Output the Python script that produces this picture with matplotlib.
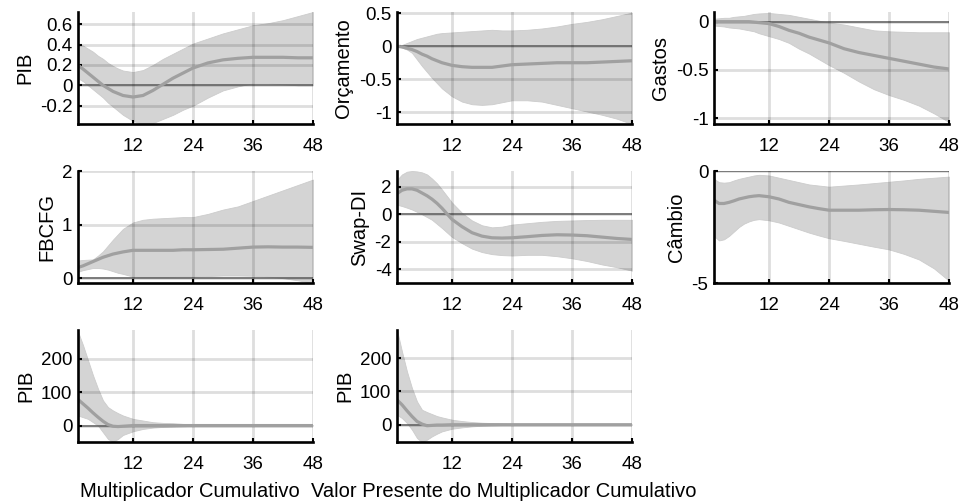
import matplotlib
matplotlib.use("Agg")
import matplotlib.pyplot as plt

plt.rcParams["font.family"] = ["Liberation Sans", "DejaVu Sans"]

horizon = [1, 2, 3, 4, 5, 6, 7, 8, 9, 10, 12, 14, 16, 18, 20, 22, 24,
           27, 30, 33, 36, 39, 42, 45, 48]

pib_med = [0.197, 0.16, 0.12, 0.08, 0.04, 0.0, -0.03, -0.06, -0.08, -0.10, -0.115, -0.10, -0.05,
           0.01, 0.07, 0.12, 0.17, 0.22, 0.25, 0.265, 0.275, 0.275, 0.275, 0.27, 0.27]
pib_up = [0.41, 0.39, 0.36, 0.33, 0.29, 0.26, 0.22, 0.19, 0.165, 0.145, 0.13, 0.15, 0.2,
          0.26, 0.31, 0.36, 0.41, 0.46, 0.51, 0.55, 0.59, 0.61, 0.64, 0.68, 0.72]
pib_lo = [0.07, 0.04, 0.0, -0.04, -0.08, -0.12, -0.17, -0.21, -0.25, -0.29, -0.35, -0.38, -0.37,
          -0.33, -0.29, -0.24, -0.2, -0.12, -0.05, -0.01, 0.02, 0.02, 0.01, 0.0, 0.0]

orc_med = [0.0, -0.01, -0.03, -0.05, -0.08, -0.12, -0.15, -0.19, -0.22, -0.25, -0.29, -0.31, -0.32,
           -0.32, -0.32, -0.30, -0.28, -0.27, -0.26, -0.25, -0.25, -0.25, -0.24, -0.23, -0.22]
orc_up = [0.0, 0.02, 0.05, 0.08, 0.11, 0.13, 0.15, 0.17, 0.19, 0.2, 0.21, 0.22, 0.23,
          0.24, 0.25, 0.24, 0.24, 0.25, 0.27, 0.3, 0.34, 0.37, 0.41, 0.46, 0.51]
orc_lo = [0.0, -0.02, -0.05, -0.1, -0.2, -0.3, -0.39, -0.48, -0.56, -0.64, -0.76, -0.84, -0.88,
          -0.89, -0.88, -0.85, -0.82, -0.82, -0.84, -0.89, -0.94, -0.99, -1.04, -1.1, -1.18]

gas_med = [0.0, 0.0, 0.0, 0.0, 0.0, 0.0, 0.0, 0.0, -0.005, -0.01, -0.02, -0.05, -0.09,
           -0.12, -0.16, -0.19, -0.22, -0.28, -0.32, -0.35, -0.38, -0.41, -0.44, -0.47, -0.49]
gas_up = [0.03, 0.035, 0.04, 0.04, 0.05, 0.055, 0.06, 0.07, 0.08, 0.085, 0.09, 0.08, 0.07,
          0.05, 0.03, 0.01, -0.01, -0.03, -0.06, -0.09, -0.1, -0.105, -0.11, -0.11, -0.11]
gas_lo = [-0.04, -0.045, -0.05, -0.06, -0.065, -0.07, -0.08, -0.09, -0.1, -0.12, -0.15, -0.18, -0.22,
          -0.28, -0.33, -0.39, -0.45, -0.53, -0.62, -0.7, -0.76, -0.81, -0.87, -0.95, -1.04]

fbc_med = [0.2, 0.23, 0.27, 0.31, 0.35, 0.39, 0.42, 0.45, 0.47, 0.49, 0.52, 0.52, 0.52,
           0.52, 0.52, 0.53, 0.53, 0.535, 0.54, 0.56, 0.58, 0.585, 0.58, 0.58, 0.575]
fbc_up = [0.33, 0.34, 0.345, 0.35, 0.42, 0.5, 0.61, 0.72, 0.82, 0.92, 1.04, 1.09, 1.11,
          1.12, 1.13, 1.14, 1.14, 1.2, 1.28, 1.34, 1.44, 1.54, 1.64, 1.74, 1.84]
fbc_lo = [0.12, 0.15, 0.17, 0.19, 0.19, 0.18, 0.16, 0.13, 0.1, 0.08, 0.03, 0.02, 0.02,
          0.02, 0.025, 0.03, 0.03, 0.04, 0.05, 0.05, 0.045, 0.03, 0.0, -0.04, -0.09]

swp_med = [1.5, 1.75, 1.85, 1.85, 1.75, 1.55, 1.35, 1.1, 0.8, 0.44, -0.37, -0.9, -1.34,
           -1.59, -1.71, -1.73, -1.71, -1.63, -1.54, -1.49, -1.51, -1.56, -1.66, -1.76, -1.83]
swp_up = [2.5, 2.9, 3.1, 3.15, 3.12, 3.05, 2.9, 2.6, 2.25, 1.8, 0.85, 0.1, -0.45,
          -0.8, -0.95, -0.9, -0.75, -0.65, -0.55, -0.48, -0.45, -0.42, -0.4, -0.4, -0.4]
swp_lo = [0.7, 0.6, 0.48, 0.35, 0.18, 0.0, -0.2, -0.4, -0.7, -1.0, -1.65, -2.1, -2.5,
          -2.75, -2.9, -2.97, -3.0, -2.95, -2.95, -3.05, -3.2, -3.4, -3.65, -3.85, -4.1]

cam_med = [-1.3, -1.45, -1.45, -1.4, -1.33, -1.25, -1.2, -1.15, -1.12, -1.1, -1.15, -1.25, -1.4,
           -1.5, -1.6, -1.68, -1.75, -1.75, -1.75, -1.73, -1.72, -1.73, -1.75, -1.8, -1.85]
cam_up = [-0.35, -0.5, -0.52, -0.5, -0.42, -0.35, -0.3, -0.25, -0.2, -0.17, -0.2, -0.3, -0.4,
          -0.5, -0.6, -0.65, -0.7, -0.65, -0.6, -0.54, -0.48, -0.42, -0.35, -0.3, -0.25]
cam_lo = [-2.9, -3.1, -3.05, -2.9, -2.7, -2.5, -2.35, -2.25, -2.18, -2.15, -2.2, -2.3, -2.45,
          -2.6, -2.75, -2.88, -3.0, -3.12, -3.25, -3.38, -3.5, -3.7, -3.95, -4.35, -4.9]

mult_med = [78, 65, 52, 38, 25, 13, 3, -2, -3, -2, 0, 0, 0,
            0, 0, 0, 0, 0, 0, 0, 0, 0, 0, 0, 0]
mult_up = [280, 240, 195, 150, 110, 75, 55, 45, 37, 30, 20, 15, 10,
           8, 7, 5, 4, 3, 2, 2, 2, 1, 1, 1, 1]
mult_lo = [30, 25, 20, 10, 0, -20, -40, -48, -40, -28, -17, -10, -6,
           -4, -3, -2, -1, -1, 0, 0, 0, 0, 0, 0, 0]

vp_med = [75, 60, 42, 25, 10, 2, -3, -2, -1, -1, 0, 0, 0,
          0, 0, 0, 0, 0, 0, 0, 0, 0, 0, 0, 0]
vp_up = [285, 220, 160, 110, 70, 45, 38, 32, 26, 22, 15, 11, 8,
         6, 5, 4, 3, 2, 2, 1, 1, 1, 1, 1, 1]
vp_lo = [30, 20, 5, -15, -40, -52, -45, -35, -27, -20, -12, -8, -5,
         -3, -2, -1, -1, 0, 0, 0, 0, 0, 0, 0, 0]

# (row, col, ylabel, median, lower, upper, ylim, yticks, yticklabels, xlabel, xlabel_x)
PANELS = [
    (0, 0, "PIB", pib_med, pib_lo, pib_up, (-0.38, 0.72),
     [-0.2, 0, 0.2, 0.4, 0.6], ["-0.2", "0", "0.2", "0.4", "0.6"], None, None),
    (0, 1, "Orçamento", orc_med, orc_lo, orc_up, (-1.18, 0.52),
     [-1, -0.5, 0, 0.5], ["-1", "-0.5", "0", "0.5"], None, None),
    (0, 2, "Gastos", gas_med, gas_lo, gas_up, (-1.06, 0.1),
     [-1, -0.5, 0], ["-1", "-0.5", "0"], None, None),
    (1, 0, "FBCFG", fbc_med, fbc_lo, fbc_up, (-0.09, 2.0),
     [0, 1, 2], ["0", "1", "2"], None, None),
    (1, 1, "Swap-DI", swp_med, swp_lo, swp_up, (-5.0, 3.15),
     [-4, -2, 0, 2], ["-4", "-2", "0", "2"], None, None),
    (1, 2, "Câmbio", cam_med, cam_lo, cam_up, (-5.0, 0.0),
     [-5, 0], ["-5", "0"], None, None),
    (2, 0, "PIB", mult_med, mult_lo, mult_up, (-49, 285),
     [0, 100, 200], ["0", "100", "200"], "Multiplicador Cumulativo", 0.477),
    (2, 1, "PIB", vp_med, vp_lo, vp_up, (-52, 285),
     [0, 100, 200], ["0", "100", "200"],
     "Valor Presente do Multiplicador Cumulativo", 0.455),
]

COL_LEFT = [78, 397, 714]
ROW_TOP = [12, 171, 330]
AX_W, AX_H = 235, 112
FIG_W, FIG_H = 962, 501

fig = plt.figure(figsize=(FIG_W / 100, FIG_H / 100), dpi=100)

for row, col, label, med, lo, up, ylim, yticks, ytl, xlabel, xlabel_x in PANELS:
    rect = [COL_LEFT[col] / FIG_W, 1 - (ROW_TOP[row] + AX_H) / FIG_H,
            AX_W / FIG_W, AX_H / FIG_H]
    ax = fig.add_axes(rect)

    ax.fill_between(horizon, lo, up, color="#d4d4d4", linewidth=0.6,
                    edgecolor="#cccccc", zorder=1)
    ax.axhline(0, color="#6e6e6e", linewidth=1.1, zorder=2)
    ax.plot(horizon, med, color="#a0a0a0", linewidth=2.3, zorder=3)

    ax.set_xlim(1, 48)
    ax.set_ylim(*ylim)
    ax.set_xticks([12, 24, 36, 48])
    ax.set_yticks(yticks)
    ax.set_yticklabels(ytl)

    ax.grid(True, color="black", alpha=0.13, linewidth=2.0, zorder=4)
    ax.set_axisbelow(False)

    for side in ("top", "right"):
        ax.spines[side].set_visible(False)
    for side in ("left", "bottom"):
        ax.spines[side].set_linewidth(1.9)
        ax.spines[side].set_zorder(5)

    ax.tick_params(direction="in", length=3, width=1.5, labelsize=13.5, pad=4)
    ax.tick_params(axis="x", pad=10)
    ax.set_ylabel(label, fontsize=14.5, labelpad=4)
    if xlabel:
        ax.set_xlabel(xlabel, fontsize=14.5)
        ax.xaxis.set_label_coords(xlabel_x, -0.355)

fig.savefig("out.png", dpi=100)
